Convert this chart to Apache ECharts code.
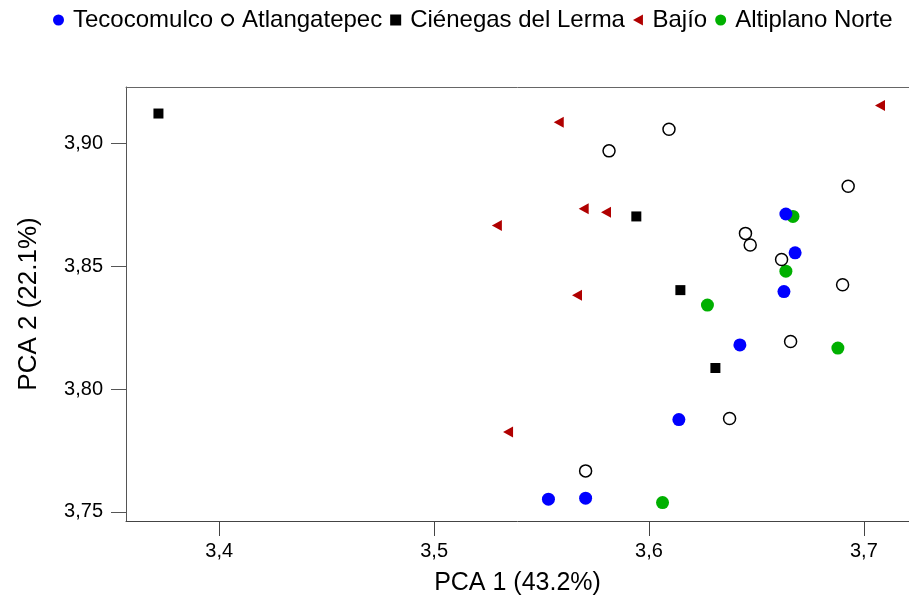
<!DOCTYPE html>
<html><head><meta charset="utf-8">
<script src="https://cdn.jsdelivr.net/npm/echarts@6/dist/echarts.min.js"></script>
<style>html,body{margin:0;padding:0;background:#fff}#c{width:909px;height:603px}</style>
</head><body><div id="c"></div>
<script>
const seriesNames = ['Tecocomulco', 'Atlangatepec', 'Ciénegas del Lerma', 'Bajío', 'Altiplano Norte'];
const tecocomulco = [[3.6637,3.8713],[3.6680,3.8555],[3.6628,3.8397],[3.6423,3.8180],[3.6139,3.7876],[3.5532,3.7552],[3.5705,3.7556]];
const atlangatepec = [[3.6093,3.9058],[3.5814,3.8970],[3.6927,3.8826],[3.6449,3.8634],[3.6471,3.8587],[3.6617,3.8528],[3.6901,3.8425],[3.6659,3.8194],[3.6375,3.7880],[3.5705,3.7667]];
const cienegas = [[3.3717,3.9122],[3.5941,3.8703],[3.6146,3.8403],[3.6309,3.8086]];
const bajio = [[3.7075,3.9155],[3.5580,3.9086],[3.5696,3.8734],[3.5800,3.8720],[3.5292,3.8666],[3.5665,3.8382],[3.5344,3.7825]];
const altiplano = [[3.6670,3.8703],[3.6637,3.8480],[3.6272,3.8342],[3.6879,3.8167],[3.6063,3.7538]];
const xTicks = [3.4, 3.5, 3.6, 3.7];
const yTicks = [3.75, 3.80, 3.85, 3.90];
const xTitle = 'PCA 1 (43.2%)';
const yTitle = 'PCA 2 (22.1%)';

const FONT = "'Liberation Sans', Arial, sans-serif";
const triPath = 'path://M10,0L10,11L0,5.5Z';
const chart = echarts.init(document.getElementById('c'), null, {renderer: 'canvas'});
const XMIN = 3.3566, XMAX = 3.721;
const option = {
  animation: false,
  backgroundColor: '#fff',
  textStyle: {fontFamily: FONT},
  legend: {
    data: seriesNames,
    left: 48, top: 3,
    itemWidth: 11, itemHeight: 11, itemGap: 8,
    textStyle: {fontFamily: FONT, fontSize: 24, color: '#000', padding: [0, 0, 0, 4]},
    selectedMode: false
  },
  grid: {show: false, left: 126, top: 87, width: 789, height: 434},
  xAxis: [{
    type: 'value', min: XMIN, max: XMAX,
    name: xTitle, nameLocation: 'middle', nameGap: 50,
    nameTextStyle: {fontFamily: FONT, fontSize: 25, color: '#000'},
    axisLine: {show: true, lineStyle: {color: '#444', width: 1}},
    axisTick: {show: true, length: 15, customValues: xTicks, lineStyle: {color: '#444'}},
    axisLabel: {customValues: xTicks, margin: 20, fontFamily: FONT, fontSize: 20, color: '#000',
      formatter: v => v.toFixed(1).replace('.', ',')},
    splitLine: {show: false}
  }, {
    type: 'value', position: 'top', min: XMIN, max: XMAX,
    axisLine: {show: true, lineStyle: {color: '#666', width: 1}},
    axisTick: {show: false}, axisLabel: {show: false}, splitLine: {show: false}
  }],
  yAxis: {
    type: 'value', min: 3.7463, max: 3.923,
    name: yTitle, nameLocation: 'middle', nameGap: 84,
    nameTextStyle: {fontFamily: FONT, fontSize: 26, color: '#000'},
    axisLine: {show: true, lineStyle: {color: '#555', width: 1}},
    axisTick: {show: true, length: 15, customValues: yTicks, lineStyle: {color: '#555'}},
    axisLabel: {customValues: yTicks, margin: 23, fontFamily: FONT, fontSize: 20, color: '#000',
      formatter: v => v.toFixed(2).replace('.', ',')},
    splitLine: {show: false}
  },
  series: [
    {name: seriesNames[4], type: 'scatter', data: altiplano, symbol: 'circle', symbolSize: 13, z: 2,
      itemStyle: {color: '#00b000', opacity: 1}},
    {name: seriesNames[1], type: 'scatter', data: atlangatepec, symbol: 'circle', symbolSize: 12, z: 3,
      itemStyle: {color: '#fff', borderColor: '#000', borderWidth: 1.5, opacity: 1}},
    {name: seriesNames[2], type: 'scatter', data: cienegas, symbol: 'rect', symbolSize: 10, z: 3,
      itemStyle: {color: '#000', opacity: 1}},
    {name: seriesNames[3], type: 'scatter', data: bajio, symbol: triPath, symbolSize: [10, 11], z: 3,
      itemStyle: {color: '#b00000', opacity: 1}},
    {name: seriesNames[0], type: 'scatter', data: tecocomulco, symbol: 'circle', symbolSize: 13, z: 4,
      itemStyle: {color: '#0000ff', opacity: 1}}
  ]
};
chart.setOption(option);
</script></body></html>
